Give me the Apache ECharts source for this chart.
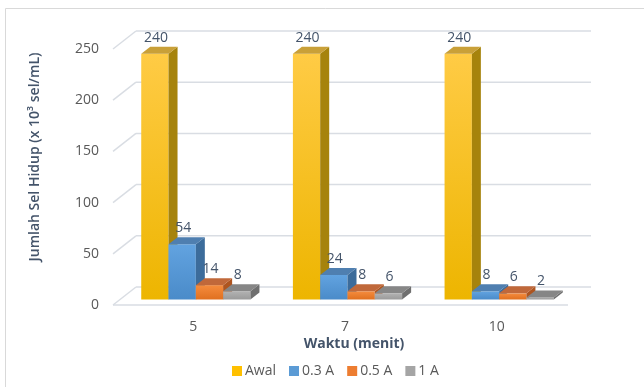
<!DOCTYPE html>
<html>
<head>
<meta charset="utf-8">
<script src="https://cdn.jsdelivr.net/npm/echarts@6/dist/echarts.min.js"></script>
<style>
  html, body { margin: 0; padding: 0; background: #fff; }
  #chart { width: 644px; height: 387px; }
</style>
</head>
<body>
<div id="chart"></div>
<script>
// data
const categories = ['5', '7', '10'];
const seriesNames = ['Awal', '0.3 A', '0.5 A', '1 A'];
const awal = [240, 240, 240];
const arus03 = [54, 24, 8];
const arus05 = [14, 8, 6];
const arus1 = [8, 6, 2];
const yTicks = [0, 50, 100, 150, 200, 250];

// colours per series: legend, front top, front bottom, side, top
const palette = [
  { base: '#FFC000', f1: '#FFCB45', f2: '#EDB500', side: '#A6830C', top: '#C9A038' },
  { base: '#5B9BD5', f1: '#62A3E0', f2: '#4A8BC9', side: '#3C6C9B', top: '#4F7FB0' },
  { base: '#ED7D31', f1: '#F58C3E', f2: '#E0701F', side: '#AE5520', top: '#C0683A' },
  { base: '#A5A5A5', f1: '#B2B2B2', f2: '#9A9A9A', side: '#6F6F6F', top: '#868686' }
];

// oblique projection offsets (px)
const wallDx = 23, wallDy = -18;   // front plane -> back wall
const plDx = 7, plDy = -5.5;       // front plane -> bar front face
const depDx = 9, depDy = -7;       // bar depth
const groupRatio = 0.72;

const chart = echarts.init(document.getElementById('chart'));

function barRenderer(k) {
  const c = palette[k];
  return function (params, api) {
    const ci = api.value(0);
    const v = api.value(1);
    const p0 = api.coord([ci, 0]);
    const p1 = api.coord([ci, v]);
    const catW = api.size([1, 0])[0];
    const bw = catW * groupRatio / 4;
    const x0 = p0[0] - catW * groupRatio / 2 + k * bw + plDx;
    const x1 = x0 + bw;
    const yB = p0[1] + plDy;
    const yT = p1[1] + plDy;
    return {
      type: 'group',
      children: [
        {
          type: 'rect',
          shape: { x: x0, y: yT, width: bw, height: yB - yT },
          style: {
            fill: new echarts.graphic.LinearGradient(0, 0, 0, 1, [
              { offset: 0, color: c.f1 }, { offset: 1, color: c.f2 }
            ])
          }
        },
        {
          type: 'polygon',
          shape: { points: [[x1, yT], [x1 + depDx, yT + depDy], [x1 + depDx, yB + depDy], [x1, yB]] },
          style: { fill: c.side }
        },
        {
          type: 'polygon',
          shape: { points: [[x0, yT], [x0 + depDx, yT + depDy], [x1 + depDx, yT + depDy], [x1, yT]] },
          style: { fill: c.top }
        },
        {
          type: 'text',
          style: {
            text: String(v),
            x: (x0 + x1) / 2 + 1,
            y: yT + depDy - 2,
            align: 'center',
            verticalAlign: 'bottom',
            fill: '#44546A',
            font: '14px "Open Sans", sans-serif'
          }
        }
      ]
    };
  };
}

function wallRenderer(params, api) {
  const v = api.value(1);
  const catW = api.size([1, 0])[0];
  const pl = api.coord([0, v]);
  const pr = api.coord([categories.length - 1, v]);
  const xl = pl[0] - catW / 2;
  const xr = pr[0] + catW / 2;
  const y = pl[1];
  const line = { stroke: '#D9DDE3', lineWidth: 1.5 };
  const kids = [
    { type: 'line', shape: { x1: xl, y1: y, x2: xl + wallDx, y2: y + wallDy }, style: line },
    { type: 'line', shape: { x1: xl + wallDx, y1: y + wallDy, x2: xr + wallDx, y2: y + wallDy }, style: line }
  ];
  if (v === 0) {
    kids.push({ type: 'line', shape: { x1: xl, y1: y, x2: xr, y2: y }, style: line });
  }
  return { type: 'group', children: kids };
}

const barData = [awal, arus03, arus05, arus1];

const option = {
  animation: false,
  textStyle: { fontFamily: '"Open Sans", sans-serif' },
  grid: { left: 113, right: 76, top: 49, height: 256 },
  xAxis: {
    type: 'category',
    data: categories,
    axisLine: { show: false },
    axisTick: { show: false },
    axisLabel: { color: '#595959', fontSize: 14, margin: 15, padding: [0, 0, 0, 9] }
  },
  yAxis: {
    type: 'value',
    min: 0,
    max: 250,
    interval: 50,
    splitLine: { show: false },
    axisLine: { show: false },
    axisTick: { show: false },
    axisLabel: { color: '#595959', fontSize: 14, margin: 14 }
  },
  legend: {
    data: seriesNames,
    left: 227,
    top: 359,
    icon: 'rect',
    itemWidth: 10,
    itemHeight: 10,
    itemGap: 13,
    textStyle: { color: '#595959', fontSize: 14, padding: [0, 0, 0, -2] }
  },
  graphic: [
    {
      type: 'rect',
      shape: { x: 5.5, y: 8.5, width: 700, height: 400 },
      style: { fill: 'none', stroke: '#D9D9D9', lineWidth: 1 },
      z: -10
    },
    {
      type: 'text',
      x: 35,
      y: 157,
      rotation: Math.PI / 2,
      style: {
        text: 'Jumlah Sel Hidup (x 10³ sel/mL)',
        align: 'center',
        verticalAlign: 'middle',
        fill: '#44546A',
        font: '600 14px "Open Sans", sans-serif'
      }
    },
    {
      type: 'text',
      x: 354,
      y: 344,
      style: {
        text: 'Waktu (menit)',
        align: 'center',
        verticalAlign: 'middle',
        fill: '#44546A',
        font: 'bold 14px "Open Sans", sans-serif'
      }
    }
  ],
  series: [
    {
      name: 'wall',
      type: 'custom',
      renderItem: wallRenderer,
      data: yTicks.map(function (t) { return [0, t]; }),
      z: 1,
      silent: true
    }
  ].concat(barData.map(function (vals, k) {
    return {
      name: seriesNames[k],
      type: 'custom',
      renderItem: barRenderer(k),
      itemStyle: { color: palette[k].base },
      data: vals.map(function (v, i) { return [i, v]; }),
      z: 2
    };
  }))
};

chart.setOption(option);
</script>
</body>
</html>
